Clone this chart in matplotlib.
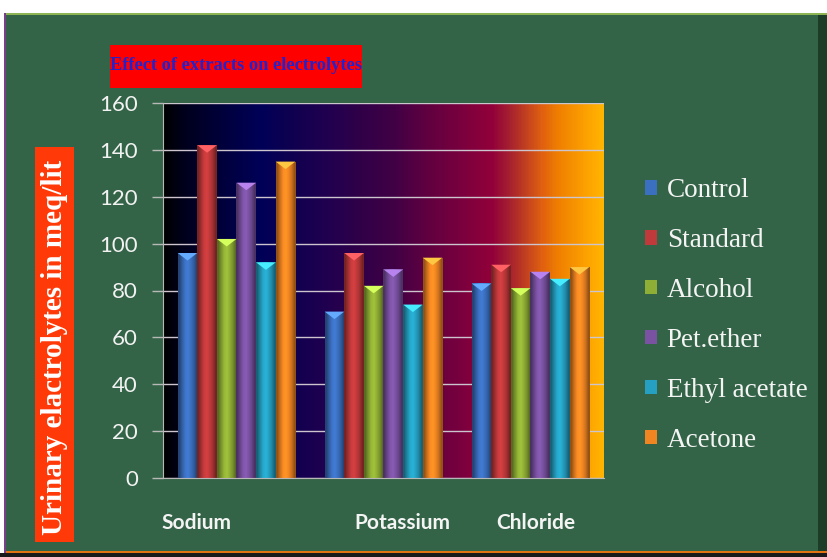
import numpy as np
import matplotlib
matplotlib.use('Agg')
import matplotlib.pyplot as plt
from matplotlib.patches import Rectangle, Polygon
from matplotlib.colors import LinearSegmentedColormap, to_rgb
from matplotlib.transforms import blended_transform_factory, ScaledTranslation

# data
categories = ['Sodium', 'Potassium', 'Chloride']
series = ['Control', 'Standard', 'Alcohol', 'Pet.ether', 'Ethyl acetate', 'Acetone']
control = [96, 71, 83]
standard = [142, 96, 91]
alcohol = [102, 82, 81]
pet_ether = [126, 89, 88]
ethyl_acetate = [92, 74, 85]
acetone = [135, 94, 90]
yticks = [0, 20, 40, 60, 80, 100, 120, 140, 160]

values = [control, standard, alcohol, pet_ether, ethyl_acetate, acetone]
colors = ['#3b6fbf', '#c0393b', '#8fae35', '#7a52a2', '#25a0c2', '#f08522']

W, H = 828, 557
fig = plt.figure(figsize=(W / 100, H / 100), dpi=100, facecolor='white')

# green board behind everything
fig.patches.append(Rectangle((6 / W, 4 / H), 822 / W, 540 / H, transform=fig.transFigure,
                             facecolor='#346447', edgecolor='none', zorder=-5))
fig.patches.append(Rectangle((818 / W, 6 / H), 10 / W, 536 / H, transform=fig.transFigure,
                             facecolor='#1d3d28', edgecolor='none', zorder=-4))
fig.patches.append(Rectangle((6 / W, 542 / H), 822 / W, 2 / H, transform=fig.transFigure,
                             facecolor='#8db454', edgecolor='none', zorder=-4))
fig.patches.append(Rectangle((6 / W, 4 / H), 822 / W, 2 / H, transform=fig.transFigure,
                             facecolor='#e07512', edgecolor='none', zorder=-4))
fig.patches.append(Rectangle((4 / W, 4 / H), 2 / W, 540 / H, transform=fig.transFigure,
                             facecolor='#7a3f8a', edgecolor='none', zorder=-4))
fig.patches.append(Rectangle((0, 0), 1, 4 / H, transform=fig.transFigure,
                             facecolor='#1a1a1a', edgecolor='none', zorder=-4))

ax = fig.add_axes([163 / W, 79 / H, 441 / W, 375 / H])
ax.set_facecolor('none')

# plot area gradient
grad_stops = [(0.0, '#000000'), (0.04, '#00001a'), (0.145, '#000040'), (0.22, '#000058'),
              (0.295, '#10004f'), (0.372, '#200050'), (0.447, '#300048'), (0.522, '#400045'),
              (0.6, '#600040'), (0.673, '#78003e'), (0.748, '#92003a'), (0.787, '#a52030'),
              (0.825, '#c24020'), (0.862, '#e06010'), (0.9, '#f08000'), (0.975, '#ffa800'),
              (1.0, '#ffb400')]
bg_cmap = LinearSegmentedColormap.from_list('bg', grad_stops)
ax.imshow(np.linspace(0, 1, 400)[None, :], cmap=bg_cmap, extent=[0, 1, 0, 1],
          transform=ax.transAxes, aspect='auto', zorder=0)

x = np.arange(len(categories))
n = len(series)
bw = 0.8 / n
shade = np.array([0.62, 0.85, 1.05, 1.12, 1.0, 0.85, 0.62])
for i, (name, vals, c) in enumerate(zip(series, values, colors)):
    bars = ax.bar(x - 0.4 + bw * (i + 0.5), vals, bw, color=c, label=name,
                  edgecolor='none', zorder=2)
    rgb = np.clip(np.array(to_rgb(c))[None, :] * shade[:, None], 0, 1)[None, :, :]
    light = tuple(np.clip(np.array(to_rgb(c)) * 1.35 + 0.08, 0, 1))
    for b in bars:
        bx, bh = b.get_x(), b.get_height()
        im = ax.imshow(rgb, extent=[bx, bx + bw, 0, bh], aspect='auto', zorder=2.5,
                       interpolation='bilinear')
        im.set_clip_path(b)
        tri = Polygon([[bx, bh], [bx + bw, bh], [bx + bw / 2, bh - 3.2]], closed=True,
                      facecolor=light, edgecolor='none', zorder=3)
        ax.add_patch(tri)

ax.set_xlim(-0.5, len(categories) - 0.5)
ax.set_ylim(0, 160)
ax.set_yticks(yticks)
ax.set_axisbelow(True)
ax.grid(axis='y', color='#cdc5cd', linewidth=1.0, zorder=1)
for s in ['top', 'right']:
    ax.spines[s].set_visible(False)
for s in ['left', 'bottom']:
    ax.spines[s].set_color('#b8b8b8')
    ax.spines[s].set_zorder(4)
ax.tick_params(axis='y', colors='#b8b8b8', length=8, width=1, pad=10,
               labelcolor='#f2f2f2', labelsize=16)
for lbl in ax.get_yticklabels():
    lbl.set_fontfamily('Lato')
ax.set_xticks([])

# category labels sit off-centre in the original
trans = blended_transform_factory(ax.transData, ax.transAxes)
label_shift = [-40, 19, 5]
for xi, cat, dx in zip(x, categories, label_shift):
    ax.text(xi, -0.12, cat, transform=trans + ScaledTranslation(dx / 100, 0, fig.dpi_scale_trans),
            ha='center', va='center', color='#f4f4f4', fontsize=15, fontweight='bold',
            family='Lato')

# title box
fig.patches.append(Rectangle((110 / W, (557 - 88) / H), 252 / W, 43 / H, transform=fig.transFigure,
                             facecolor='#ff0000', edgecolor='none', zorder=1))
fig.text(236 / W, (557 - 66) / H, 'Effect of extracts on electrolytes', ha='center', va='center',
         color='#2323cc', fontsize=13.2, fontweight='bold', family='Liberation Serif')

# y label box
fig.patches.append(Rectangle((35 / W, (557 - 542) / H), 39 / W, 395 / H, transform=fig.transFigure,
                             facecolor='#ff3a08', edgecolor='none', zorder=1))
fig.text(55 / W, (557 - 347) / H, 'Urinary elactrolytes in meq/lit', rotation=90, ha='center',
         va='center', color='white', fontsize=21, fontweight='bold', family='Liberation Serif')

leg = fig.legend(loc='upper left', bbox_to_anchor=(645 / W, (557 - 178) / H), frameon=False,
                 handlelength=0.45, handleheight=0.45, handletextpad=0.35, labelspacing=0.92,
                 borderpad=0, borderaxespad=0,
                 prop={'family': 'Liberation Serif', 'size': 19.5})
for t in leg.get_texts():
    t.set_color('#f4f4f4')

fig.savefig('out.png', dpi=100, facecolor=fig.get_facecolor())
